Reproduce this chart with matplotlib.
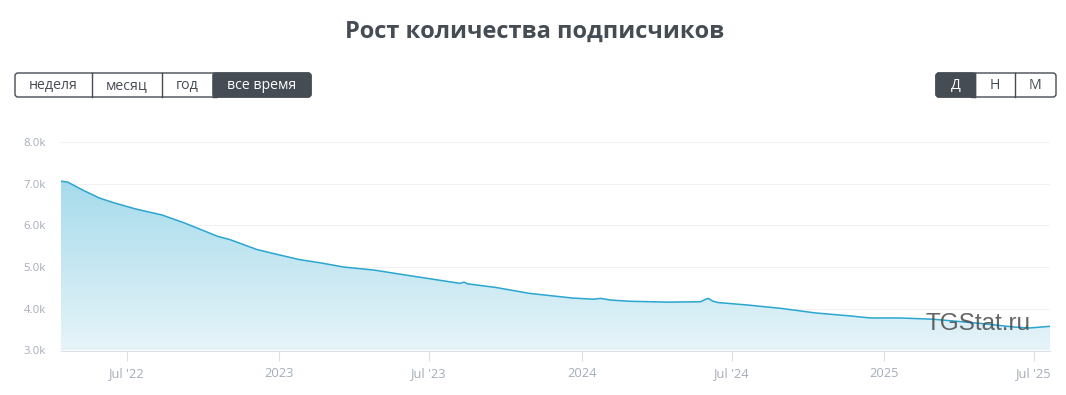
import numpy as np
import matplotlib.pyplot as plt
import matplotlib.dates as mdates
from matplotlib.patches import FancyBboxPatch, Rectangle
from matplotlib.ticker import FuncFormatter

# subscriber count over time (thousands)
dates = [
    "2022-04-12", "2022-04-20", "2022-05-08", "2022-05-28", "2022-06-12", "2022-07-10",
    "2022-08-12", "2022-09-08", "2022-10-18", "2022-11-02", "2022-12-05", "2022-12-28",
    "2023-01-25", "2023-02-20", "2023-03-20", "2023-04-25", "2023-05-30", "2023-07-02",
    "2023-08-07", "2023-08-12", "2023-08-16", "2023-09-20", "2023-10-30", "2023-12-20",
    "2024-01-15", "2024-01-24", "2024-02-05", "2024-02-29", "2024-04-15", "2024-05-24",
    "2024-05-30", "2024-06-02", "2024-06-08", "2024-06-14", "2024-07-20", "2024-08-29",
    "2024-10-10", "2024-11-20", "2024-12-15", "2025-01-20", "2025-03-01", "2025-04-27",
    "2025-06-08", "2025-06-25", "2025-07-20",
]
subs_k = [
    7.06, 7.04, 6.85, 6.66, 6.56, 6.40,
    6.25, 6.06, 5.74, 5.66, 5.42, 5.31,
    5.18, 5.10, 5.00, 4.93, 4.82, 4.72,
    4.61, 4.64, 4.60, 4.51, 4.37, 4.26,
    4.23, 4.25, 4.21, 4.18, 4.16, 4.17,
    4.23, 4.25, 4.18, 4.15, 4.09, 4.01,
    3.90, 3.83, 3.78, 3.78, 3.75, 3.65,
    3.56, 3.54, 3.58,
]

y_ticks = [3.0, 4.0, 5.0, 6.0, 7.0, 8.0]
x_ticks = ["2022-07-01", "2023-01-01", "2023-07-01", "2024-01-01",
           "2024-07-01", "2025-01-01", "2025-07-01"]
x_tick_labels = ["Jul '22", "2023", "Jul '23", "2024", "Jul '24", "2025", "Jul '25"]

periods = ["неделя", "месяц", "год", "все время"]
scales = ["Д", "Н", "М"]

W, H = 1066, 395
DARK = "#464c54"
LINE = "#2aa6d0"
TICK = "#a6adb8"

x = mdates.datestr2num(dates)
y = np.array(subs_k)

fig = plt.figure(figsize=(W / 100, H / 100), dpi=100)
ax = fig.add_axes([61 / W, 1 - 350.5 / H, (1050 - 61) / W, (350.5 - 142) / H])
ax.set_axisbelow(True)

x0, x1 = x[0], x[-1]
ax.set_xlim(x0, x1)
ax.set_ylim(3.0, 8.0)

# gradient fill under the line
grad = np.linspace(0, 1, 256).reshape(-1, 1)
cmap = plt.matplotlib.colors.LinearSegmentedColormap.from_list(
    "fill", ["#e6f4f9", "#a6dbeb"])
im = ax.imshow(grad, aspect="auto", cmap=cmap, origin="lower",
               extent=[x0, x1, 3.0, 7.06], zorder=1)
poly = ax.fill_between(x, 3.0, y, color="none", lw=0)
im.set_clip_path(poly.get_paths()[0], transform=ax.transData)
ax.plot(x, y, color=LINE, lw=1.1, zorder=3)

ax.set_yticks(y_ticks)
ax.yaxis.set_major_formatter(FuncFormatter(lambda v, p: f"{v:.1f}k"))
ax.set_xticks(mdates.datestr2num(x_ticks))
ax.set_xticklabels(x_tick_labels)
ax.grid(axis="y", color="#f1f1f1", lw=0.8)
for s in ["top", "right", "left"]:
    ax.spines[s].set_visible(False)
ax.spines["bottom"].set_color("#dcdfe4")
ax.spines["bottom"].set_zorder(4)
ax.tick_params(axis="y", length=0, pad=11, labelsize=8.2, labelcolor=TICK)
ax.tick_params(axis="x", length=7, width=0.8, color="#dcdfe4", pad=5,
               labelsize=9.3, labelcolor=TICK)
for lab in ax.get_xticklabels() + ax.get_yticklabels():
    lab.set_family("Open Sans")

fig.text(925 / W, 1 - 330 / H, "TGStat.ru", fontsize=17.5, va="baseline",
         family="Liberation Sans", color="#4a4a4a", alpha=0.85, zorder=5)

# overlay in pixel coords for title and buttons
ov = fig.add_axes([0, 0, 1, 1], zorder=-1)
ov.set_xlim(0, W)
ov.set_ylim(H, 0)
ov.axis("off")
ov.patch.set_alpha(0)

fig.text(535 / W, 1 - 32 / H, "Рост количества подписчиков", ha="center",
         va="center", fontsize=17, fontweight="bold", color=DARK,
         family="Open Sans")


def button_group(edges, labels, active, top=73, bottom=97):
    ov.add_patch(FancyBboxPatch((edges[0], top), edges[-1] - edges[0], bottom - top,
                                boxstyle="round,pad=0,rounding_size=3",
                                fc="white", ec=DARK, lw=1.0))
    for i, lab in enumerate(labels):
        a, b = edges[i], edges[i + 1]
        if i == active:
            ov.add_patch(FancyBboxPatch((a, top), b - a, bottom - top,
                                        boxstyle="round,pad=0,rounding_size=3",
                                        fc=DARK, ec=DARK, lw=1.0))
            # square off inner side
            if i > 0:
                ov.add_patch(Rectangle((a, top), 4, bottom - top, fc=DARK, ec=DARK, lw=1.0))
            if i < len(labels) - 1:
                ov.add_patch(Rectangle((b - 4, top), 4, bottom - top, fc=DARK, ec=DARK, lw=1.0))
        if i > 0:
            ov.plot([a, a], [top, bottom], color=DARK, lw=1.0)
        ov.text((a + b) / 2, (top + bottom) / 2 + 0.5, lab, ha="center", va="center",
                fontsize=10.2, family="Open Sans",
                color="white" if i == active else DARK)


button_group([15, 92, 162, 213, 311], periods, 3)
button_group([936, 975, 1015, 1056], scales, 0)

fig.savefig("out.png", dpi=100)
